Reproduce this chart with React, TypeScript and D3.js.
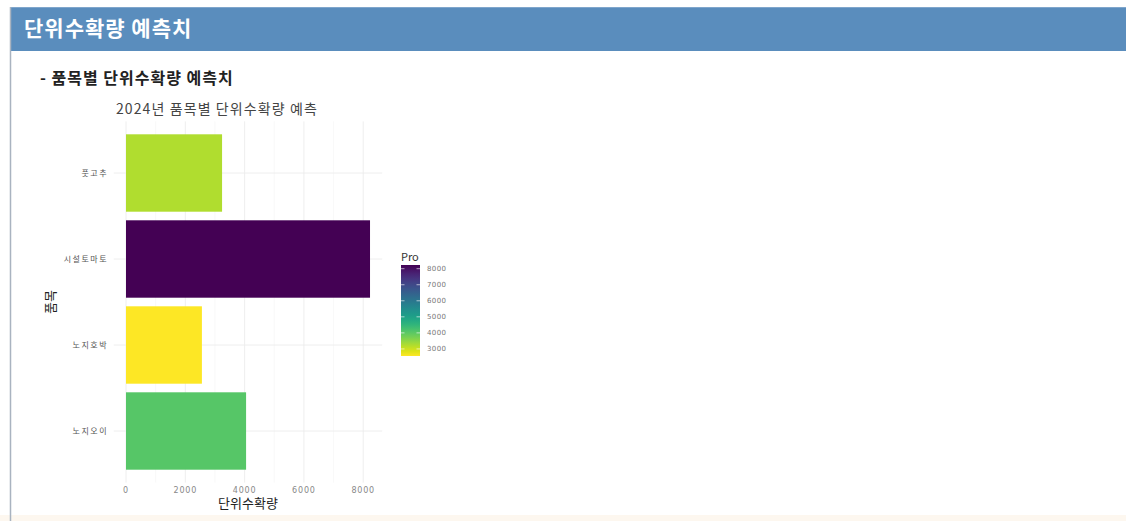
import React from "react";
import * as d3 from "d3";

const categories = ["풋고추", "시설토마토", "노지호박", "노지오이"];
const values = [3240, 8230, 2560, 4050];
const xTicks = [0, 2000, 4000, 6000, 8000];
const xMinorTicks = [1000, 3000, 5000, 7000];
const legendTicks = [3000, 4000, 5000, 6000, 7000, 8000];

const W = 1126;
const H = 521;
const KR = "'Noto Sans CJK KR', 'Noto Sans', sans-serif";

export default function App() {
  const maxV = d3.max(values) as number;
  const minV = d3.min(values) as number;
  const x = d3.scaleLinear().domain([0, 8000]).range([126, 363.2]);
  const panelL = x(-0.05 * maxV);
  const panelR = x(1.05 * maxV);
  const y = d3
    .scaleBand<string>()
    .domain(categories)
    .range([121.4, 482.6])
    .paddingInner(0.1)
    .paddingOuter(0.15);
  const color = d3
    .scaleSequential((t: number) => d3.interpolateViridis(1 - t))
    .domain([minV, maxV]);
  const ly = d3.scaleLinear().domain([minV, maxV]).range([356, 265]);
  const stops = d3.range(0, 1.0001, 0.05);

  return (
    <div style={{ position: "absolute", left: 0, top: 0 }}>
      <svg width={W} height={H} style={{ display: "block", background: "#fff" }}>
        <defs>
          <linearGradient id="lg" x1="0" y1="1" x2="0" y2="0">
            {stops.map((s) => (
              <stop key={s} offset={s} stopColor={color(minV + s * (maxV - minV))} />
            ))}
          </linearGradient>
        </defs>
        <rect x={0} y={0} width={W} height={H} fill="#ffffff" />
        <rect x={0} y={515} width={W} height={6} fill="#fdf7ef" />
        {/* header */}
        <rect x={11} y={7} width={W - 11} height={44} fill="#5a8dbd" />
        <line x1={11} x2={W} y1={7.5} y2={7.5} stroke="#7fa6cc" />
        <line x1={10.5} x2={10.5} y1={7} y2={H} stroke="#a9b3c0" strokeWidth={1.5} />
        <text x={24} y={36} fill="#fff" fontFamily={KR} fontWeight="bold" fontSize={21} letterSpacing={1}>
          단위수확량 예측치
        </text>
        <text x={40} y={84} fill="#222" fontFamily={KR} fontWeight="bold" fontSize={16} letterSpacing={1}>
          - 품목별 단위수확량 예측치
        </text>
        <text x={116} y={114} fill="#444" fontFamily={KR} fontSize={14} letterSpacing={1.1}>
          2024년 품목별 단위수확량 예측
        </text>
        {/* grid */}
        {xMinorTicks.map((t) => (
          <line key={"m" + t} x1={x(t)} x2={x(t)} y1={121.4} y2={482.6} stroke="#f4f4f4" strokeWidth={0.6} />
        ))}
        {xTicks.map((t) => (
          <line key={"g" + t} x1={x(t)} x2={x(t)} y1={121.4} y2={482.6} stroke="#ececec" strokeWidth={0.9} />
        ))}
        {categories.map((c) => (
          <line
            key={"h" + c}
            x1={panelL}
            x2={panelR}
            y1={(y(c) as number) + y.bandwidth() / 2}
            y2={(y(c) as number) + y.bandwidth() / 2}
            stroke="#ececec"
            strokeWidth={0.9}
          />
        ))}
        {/* bars */}
        {categories.map((c, i) => (
          <rect
            key={"b" + c}
            x={x(0)}
            y={y(c) as number}
            width={x(values[i]) - x(0)}
            height={y.bandwidth()}
            fill={color(values[i])}
          />
        ))}
        {/* y labels */}
        {categories.map((c) => (
          <text
            key={"yl" + c}
            x={108}
            y={(y(c) as number) + y.bandwidth() / 2}
            dy="0.35em"
            textAnchor="end"
            fill="#555"
            fontFamily={KR}
            fontSize={8}
            letterSpacing={1.5}
          >
            {c}
          </text>
        ))}
        {/* x labels */}
        {xTicks.map((t) => (
          <text
            key={"xl" + t}
            x={x(t)}
            y={490}
            dy="0.35em"
            textAnchor="middle"
            fill="#888"
            fontFamily="'DejaVu Sans', sans-serif"
            fontSize={8}
            letterSpacing={0.8}
          >
            {t}
          </text>
        ))}
        <text x={(panelL + panelR) / 2} y={508} textAnchor="middle" fill="#222" fontFamily={KR} fontSize={13}>
          단위수확량
        </text>
        <text
          transform={`translate(55, ${(121.4 + 482.6) / 2}) rotate(-90)`}
          textAnchor="middle"
          fill="#222"
          fontFamily={KR}
          fontSize={13}
        >
          품목
        </text>
        {/* legend */}
        <text x={401} y={261} fill="#333" fontFamily={KR} fontSize={11}>
          Pro
        </text>
        <rect x={401} y={265} width={19} height={91} fill="url(#lg)" />
        {legendTicks.map((t) => (
          <g key={"lt" + t}>
            <line x1={401} x2={404.5} y1={ly(t)} y2={ly(t)} stroke="#fff" strokeWidth={0.6} />
            <line x1={416.5} x2={420} y1={ly(t)} y2={ly(t)} stroke="#fff" strokeWidth={0.6} />
            <text
              x={427}
              y={ly(t)}
              dy="0.35em"
              fill="#777"
              fontFamily="'DejaVu Sans', sans-serif"
              fontSize={7}
              letterSpacing={0.4}
            >
              {t}
            </text>
          </g>
        ))}
      </svg>
    </div>
  );
}
